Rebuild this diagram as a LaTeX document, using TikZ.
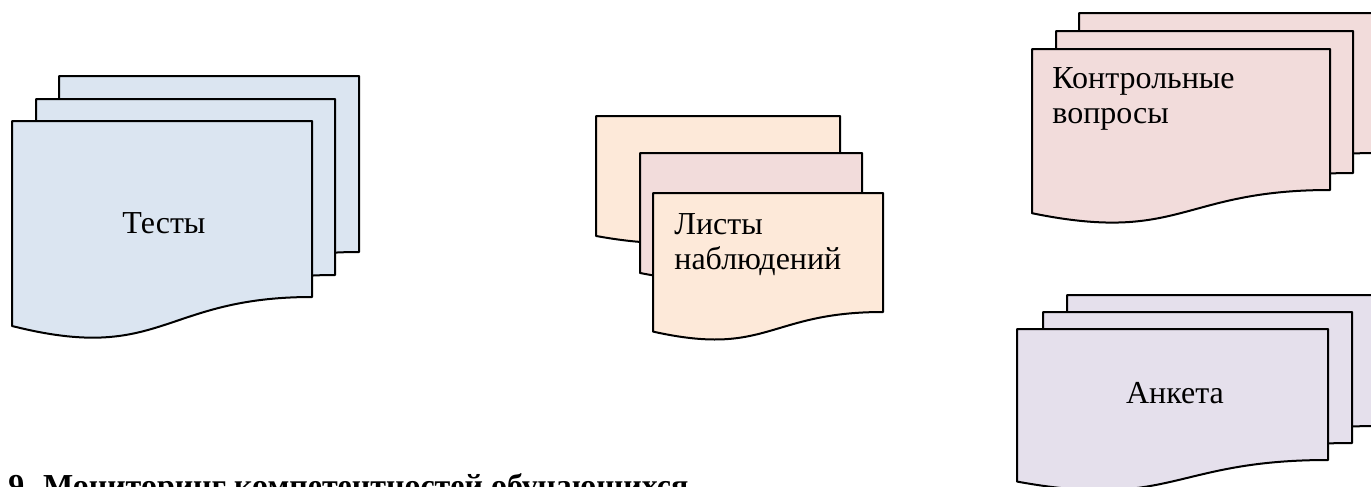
\documentclass[tikz,border=0pt]{standalone}
\usepackage{fontspec}
\setmainfont{Liberation Serif}
\usepackage{tikz}
\usetikzlibrary{positioning,calc}

\definecolor{test_blue}{HTML}{DBE5F1}
\definecolor{list_peach}{HTML}{FDE9D9}
\definecolor{ctrl_pink}{HTML}{F2DCDB}
\definecolor{ank_violet}{HTML}{E5E0EC}

\begin{document}
\begin{tikzpicture}[x=0.5pt, y=-0.5pt]
	\tikzstyle{sheet_line}=[draw=black, line width=1pt, line join=round];
	\tikzstyle{sheet_txt}=[inner sep=0pt, font=\fontsize{16pt}{17.5pt}\selectfont];
	\tikzset{pics/doc_sheet/.style n args={3}{code={
		\path[sheet_line, fill=#3] (0,0) -- (#1,0) -- (#1,#2)
			.. controls (0.5*#1,#2) and (0.5*#1,1.381*#2) .. (0,1.1646*#2) -- cycle;
	}}}
	
	\useasboundingbox (0,0) rectangle (1371,487);
	\clip (0,0) rectangle (1371,487);
	
	\pic at (59,76) {doc_sheet={300}{176}{test_blue}};
	\pic at (36,99) {doc_sheet={299}{176}{test_blue}};
	\pic at (12,121) {doc_sheet={300}{176}{test_blue}};
	\node[sheet_txt, anchor=base] (t_tests) at (164,233) {Тесты};
	
	\pic at (596,116) {doc_sheet={244}{103}{list_peach}};
	\pic at (640,153) {doc_sheet={222}{103}{ctrl_pink}};
	\pic at (653,193) {doc_sheet={230}{119}{list_peach}};
	\node[sheet_txt, anchor=north west, align=left] (t_lists) at (674,213) {Листы\\наблюдений};
	
	\pic at (1079,13) {doc_sheet={298}{140}{ctrl_pink}};
	\pic at (1056,31) {doc_sheet={297}{142}{ctrl_pink}};
	\pic at (1032,49) {doc_sheet={298}{141}{ctrl_pink}};
	\node[sheet_txt, anchor=north west, align=left] (t_ctrl) at (1052,67) {Контрольные\\вопросы};
	
	\pic at (1067,295) {doc_sheet={311}{131}{ank_violet}};
	\pic at (1043,312) {doc_sheet={309}{131}{ank_violet}};
	\pic at (1017,329) {doc_sheet={311}{131}{ank_violet}};
	\node[sheet_txt, anchor=base] (t_ank) at (1175,403) {Анкета};
	
	\node[sheet_txt, anchor=base west, font=\fontsize{16pt}{17.5pt}\selectfont\bfseries] (t_head) at (8,496) {9. Мониторинг компетентностей обучающихся};
	
\end{tikzpicture}
\end{document}
